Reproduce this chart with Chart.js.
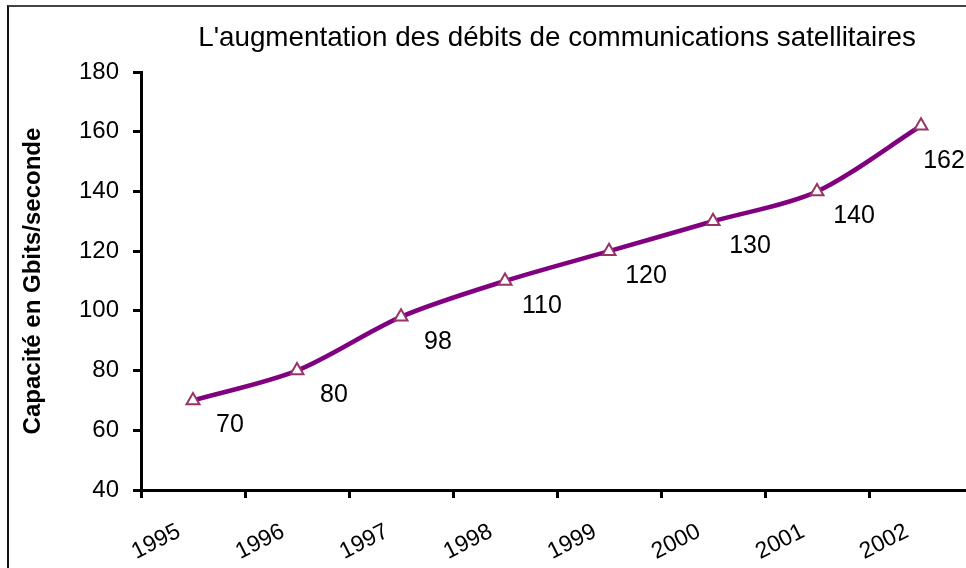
<!DOCTYPE html>
<html>
<head>
<meta charset="utf-8">
<script src="https://cdn.jsdelivr.net/npm/chart.js@4.4.1/dist/chart.umd.min.js"></script>
<style>
  html, body { margin: 0; padding: 0; background: #fff; overflow: hidden; }
  #wrap { position: relative; width: 966px; height: 568px; overflow: hidden; }
  #frame { position: absolute; left: 7px; top: 5px; width: 980px; height: 600px;
           border-top: 2px solid #444; border-left: 2px solid #111; pointer-events: none; }
  #box { position: absolute; left: 0; top: 0; width: 990px; height: 568px; }
</style>
</head>
<body>
<div id="wrap">
  <div id="box"><canvas id="debitsChart"></canvas></div>
  <div id="frame"></div>
</div>
<script>
const years = ['1995', '1996', '1997', '1998', '1999', '2000', '2001', '2002'];
const capacite = [70, 80, 98, 110, 120, 130, 140, 162];
const yTicks = [40, 60, 80, 100, 120, 140, 160, 180];

const titleText = "L'augmentation des débits de communications satellitaires";
const font = "'Liberation Sans', Arial, Helvetica, sans-serif";

// title centred over the plot area (the built-in one centres on the canvas)
const plotTitle = {
  id: 'plotTitle',
  afterDraw(chart) {
    const ctx = chart.ctx;
    const a = chart.chartArea;
    ctx.save();
    ctx.font = '27.8px ' + font;
    ctx.fillStyle = '#000';
    ctx.textAlign = 'center';
    ctx.textBaseline = 'middle';
    ctx.fillText(titleText, (a.left + a.right) / 2, 38);
    ctx.restore();
  }
};

// value labels under each point, like the original
const valueLabels = {
  id: 'valueLabels',
  afterDatasetsDraw(chart) {
    const ctx = chart.ctx;
    const meta = chart.getDatasetMeta(0);
    ctx.save();
    ctx.font = '25px ' + font;
    ctx.fillStyle = '#000';
    ctx.textAlign = 'center';
    ctx.textBaseline = 'middle';
    meta.data.forEach((pt, i) => {
      const last = i === meta.data.length - 1;
      const dx = last ? 23 : 37;
      const dy = last ? 35 : 25;
      ctx.fillText(String(chart.data.datasets[0].data[i]), pt.x + dx, pt.y + dy);
    });
    ctx.restore();
  }
};

new Chart(document.getElementById('debitsChart'), {
  type: 'line',
  data: {
    labels: years,
    datasets: [{
      label: 'Capacité',
      data: capacite,
      borderColor: '#800080',
      borderWidth: 4.5,
      tension: 0.3,
      pointStyle: 'triangle',
      pointRadius: 7.5,
      pointBorderWidth: 2,
      pointBackgroundColor: '#fff',
      pointBorderColor: '#993366',
      clip: false
    }]
  },
  options: {
    responsive: true,
    maintainAspectRatio: false,
    animation: false,
    layout: { padding: { left: 19, right: 17, top: 72, bottom: 0 } },
    plugins: {
      legend: { display: false },
      tooltip: { enabled: false },
      title: { display: false }
    },
    scales: {
      x: {
        offset: true,
        grid: { offset: true, drawOnChartArea: false, drawTicks: true, tickLength: 8, tickWidth: 3, tickColor: '#000' },
        border: { color: '#000', width: 3 },
        ticks: {
          color: '#000',
          font: { family: font, size: 23 },
          maxRotation: 27,
          minRotation: 27,
          labelOffset: -14,
          padding: 20,
          autoSkip: false
        },
        afterFit(scale) { scale.height = 78; }
      },
      y: {
        min: 40,
        max: 180,
        afterBuildTicks(scale) { scale.ticks = yTicks.map(v => ({ value: v })); },
        grid: { drawOnChartArea: false, tickLength: 8, tickWidth: 3, tickColor: '#000' },
        border: { color: '#000', width: 3 },
        ticks: {
          color: '#000',
          font: { family: font, size: 24 },
          padding: 14
        },
        title: {
          display: true,
          text: 'Capacité en Gbits/seconde',
          color: '#000',
          font: { family: font, size: 24, weight: 'bold' },
          padding: 0
        },
        afterFit(scale) { scale.width = 122; }
      }
    }
  },
  plugins: [valueLabels, plotTitle]
});
</script>
</body>
</html>
